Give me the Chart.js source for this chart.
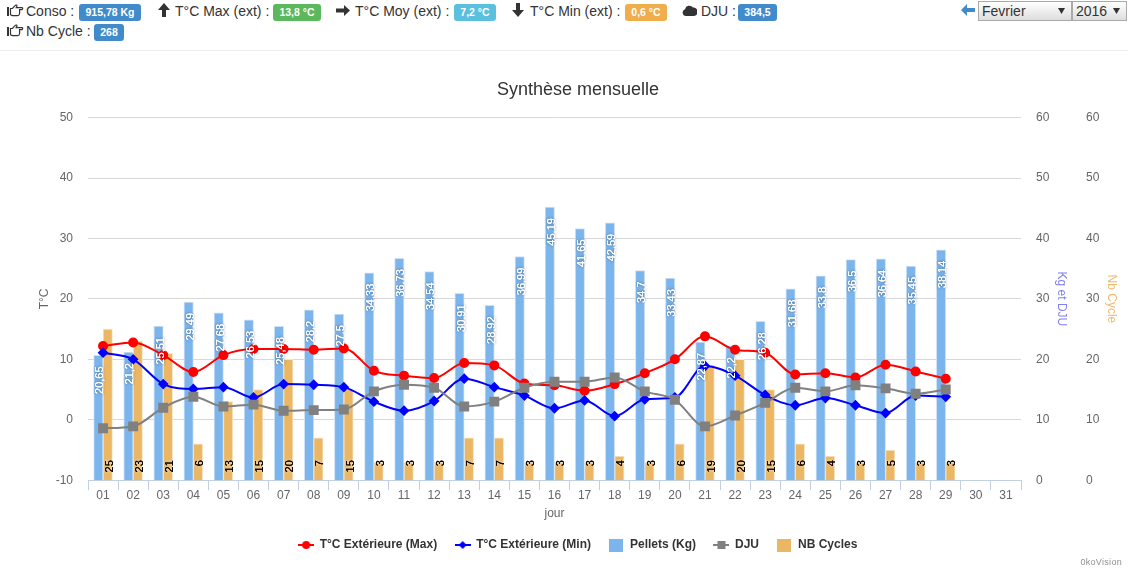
<!DOCTYPE html>
<html>
<head>
<meta charset="utf-8">
<title>Synthèse mensuelle</title>
<script src="https://cdn.jsdelivr.net/npm/chart.js@4"></script>
<style>
  html, body { margin: 0; padding: 0; background: #fff; overflow: hidden; }
  body { width: 1128px; height: 568px; position: relative; font-family: "Liberation Sans", Arial, sans-serif; font-size: 14px; color: #333; }
  .t, .b, .i { position: absolute; white-space: nowrap; }
  .t { line-height: 20px; }
  .b { height: 17px; line-height: 16px; border-radius: 3px; color: #fff; font-weight: bold; font-size: 10.5px; text-align: center; }
  .i svg { display: block; }
  .blue { background: #428bca; } .green { background: #5cb85c; } .cyan { background: #5bc0de; } .orange { background: #f0ad4e; }
  select {
    position: absolute; top: 1px; height: 20px; margin: 0; padding: 0 0 0 3px; box-sizing: border-box;
    font: 14px "Liberation Sans", Arial, sans-serif; color: #333; border: 1px solid #aaa; border-radius: 0; appearance: none;
    background: url("data:image/svg+xml,%3Csvg xmlns='http://www.w3.org/2000/svg' width='7' height='6'%3E%3Cpath d='M0 0H7L3.5 6Z' fill='%23333'/%3E%3C/svg%3E") no-repeat right 6px center, linear-gradient(#ffffff, #dddddd);
  }
  #sep { position: absolute; left: 0; top: 50px; width: 1128px; height: 1px; background: #eee; }
  #wrap { position: absolute; left: 0; top: 51px; width: 1128px; height: 517px; }
  #credit { position: absolute; right: 6px; top: 557px; font-size: 9px; color: #909090; letter-spacing: .3px; }
</style>
</head>
<body>
<span class="i" style="left:7px;top:4px"><svg width="17" height="13" viewBox="0 0 17 13"><path d="M0 3H2V12H0Z" fill="#333"/><path d="M3.5 4.5H5.5L8.5 1.2Q9.8 0.6 10 2L9.2 3.6H15Q16.4 4.2 15 5.6H12.6V9.5Q12.4 11.6 10.5 11.6H6Q4.5 11.6 3.5 10.6Z" fill="none" stroke="#333" stroke-width="1.2"/></svg></span>
<span class="t" style="left:26px;top:1px">Conso :</span>
<span class="b blue" style="left:79px;top:4px;width:62px">915,78 Kg</span>
<span class="i" style="left:158px;top:3px"><svg width="12" height="14" viewBox="0 0 12 14"><path d="M6 0L12 7H8V14H4V7H0Z" fill="#333"/></svg></span>
<span class="t" style="left:175px;top:1px">T°C Max (ext) :</span>
<span class="b green" style="left:273px;top:4px;width:48px">13,8 °C</span>
<span class="i" style="left:336px;top:5px"><svg width="14" height="11" viewBox="0 0 14 11"><path d="M14 5.5L8 0V3.5H0V7.5H8V11Z" fill="#333"/></svg></span>
<span class="t" style="left:355px;top:1px">T°C Moy (ext) :</span>
<span class="b cyan" style="left:454px;top:4px;width:42px">7,2 °C</span>
<span class="i" style="left:512px;top:3px"><svg width="12" height="14" viewBox="0 0 12 14"><path d="M6 14L12 7H8V0H4V7H0Z" fill="#333"/></svg></span>
<span class="t" style="left:530px;top:1px">T°C Min (ext) :</span>
<span class="b orange" style="left:625px;top:4px;width:42px">0,6 °C</span>
<span class="i" style="left:682px;top:4px"><svg width="15" height="12" viewBox="0 0 15 12"><path d="M4 12A3.5 3.5 0 0 1 3 5.2A4.5 4.5 0 0 1 11 3.6A4 4 0 0 1 12 12Z" fill="#333"/></svg></span>
<span class="t" style="left:701px;top:1px">DJU :</span>
<span class="b blue" style="left:738px;top:4px;width:39px">384,5</span>
<span class="i" style="left:7px;top:24px"><svg width="17" height="13" viewBox="0 0 17 13"><path d="M0 3H2V12H0Z" fill="#333"/><path d="M3.5 4.5H5.5L8.5 1.2Q9.8 0.6 10 2L9.2 3.6H15Q16.4 4.2 15 5.6H12.6V9.5Q12.4 11.6 10.5 11.6H6Q4.5 11.6 3.5 10.6Z" fill="none" stroke="#333" stroke-width="1.2"/></svg></span>
<span class="t" style="left:26px;top:21px">Nb Cycle :</span>
<span class="b blue" style="left:94px;top:24px;width:30px">268</span>
<span class="i" style="left:961px;top:4px"><svg width="14" height="12" viewBox="0 0 14 12"><path d="M0 6L6 0V4H14V8H6V12Z" fill="#428bca"/></svg></span>
<select style="left:978px;width:94px"><option>Fevrier</option></select>
<select style="left:1072px;width:55px"><option>2016</option></select>
<div id="sep"></div>
<div id="wrap"><canvas id="chart" width="1128" height="517"></canvas></div>
<div id="credit">0koVision</div>

<script>
const jours = ["01","02","03","04","05","06","07","08","09","10","11","12","13","14","15","16","17","18","19","20","21","22","23","24","25","26","27","28","29","30","31"];
const tempMax = [12.2,12.8,10.7,7.9,10.7,11.7,11.7,11.6,11.8,8.1,7.3,6.9,9.4,9.0,6.0,5.7,4.8,5.9,7.7,10.0,13.8,11.6,11.1,7.5,7.7,7.0,9.1,8.0,6.8];
const tempMin = [11.1,10.0,5.9,5.1,5.4,3.7,5.9,5.8,5.4,3.0,1.5,3.1,6.8,5.4,4.0,1.9,3.2,0.6,3.4,3.7,8.9,7.3,4.1,2.4,3.6,2.4,1.1,4.0,3.8];
const pellets = [20.65,21.2,25.51,29.49,27.68,26.53,25.48,28.2,27.5,34.33,36.73,34.54,30.91,28.92,36.99,45.19,41.65,42.59,34.7,33.43,22.87,22.2,26.28,31.68,33.8,36.5,36.64,35.45,38.14];
const dju = [8.6,8.9,12.0,13.8,12.2,12.5,11.5,11.6,11.7,14.7,15.8,15.3,12.2,13.0,15.3,16.3,16.3,17.0,14.7,13.3,8.9,10.7,12.8,15.3,14.7,15.7,15.2,14.3,15.0];
const nbCycles = [25,23,21,6,13,15,20,7,15,3,3,3,7,7,3,3,3,4,3,6,19,20,15,6,4,3,5,3,3];

const gris = "#666666";
const police = "'Liberation Sans', Arial, sans-serif";

// petites icones de legende (trait + marqueur)
function icone(couleur, forme) {
  const c = document.createElement("canvas");
  c.width = forme === "barre" ? 14 : 16;
  c.height = forme === "barre" ? 13 : 10;
  const g = c.getContext("2d");
  g.fillStyle = couleur;
  if (forme === "barre") {
    g.fillRect(0, 0, 14, 13);
    return c;
  }
  g.fillRect(0, 4, 16, 2);
  if (forme === "rond") { g.beginPath(); g.arc(8, 5, 4, 0, Math.PI * 2); g.fill(); }
  if (forme === "carre") g.fillRect(4, 1, 8, 8);
  if (forme === "losange") { g.beginPath(); g.moveTo(8, 1); g.lineTo(12, 5); g.lineTo(8, 9); g.lineTo(4, 5); g.fill(); }
  return c;
}
const icones = [icone("#ff0000", "rond"), icone("#0000ff", "losange"), icone("#7cb5ec", "barre"), icone("#808080", "carre"), icone("#ebb764", "barre")];

// etiquettes verticales sur les barres
const etiquettes = {
  id: "etiquettes",
  afterDatasetsDraw(chart) {
    const ctx = chart.ctx;
    const bas = chart.scales.x.top;
    const ecrire = (meta, valeurs, couleur, halo, position) => {
      meta.data.forEach((bar, i) => {
        if (valeurs[i] === undefined) return;
        ctx.save();
        ctx.translate(bar.x + 2, position(bar));
        ctx.rotate(-Math.PI / 2);
        ctx.font = "11px " + police;
        ctx.textAlign = "right";
        ctx.textBaseline = "middle";
        ctx.fillStyle = couleur;
        ctx.shadowColor = halo;
        ctx.shadowBlur = 3;
        ctx.fillText(String(valeurs[i]).replace(".", ","), 0, 0);
        ctx.shadowBlur = 0;
        ctx.fillText(String(valeurs[i]).replace(".", ","), 0, 0);
        ctx.restore();
      });
    };
    ecrire(chart.getDatasetMeta(2), pellets, "#ffffff", "rgba(0,0,0,0.55)", (b) => b.y + 11);
    ecrire(chart.getDatasetMeta(4), nbCycles, "#000000", "#ffffff", () => bas - 20);
  },
};

function axeDroit(titre, couleur, largeur, marge) {
  return {
    position: "right",
    min: 0, max: 60,
    border: { display: false },
    grid: { display: false },
    ticks: { stepSize: 10, color: gris, padding: 7, font: { size: 12, family: police } },
    title: { display: true, text: titre, color: couleur, padding: { top: marge, bottom: 0 }, font: { size: 12, family: police } },
    afterFit(s) { s.width = largeur; },
  };
}

new Chart(document.getElementById("chart"), {
  data: {
    labels: jours,
    datasets: [
      { type: "line", label: "T°C Extérieure (Max)", data: tempMax, yAxisID: "y", order: 3, borderColor: "#ff0000", backgroundColor: "#ff0000", borderWidth: 2, cubicInterpolationMode: "monotone", pointStyle: "circle", pointRadius: 4 },
      { type: "line", label: "T°C Extérieure (Min)", data: tempMin, yAxisID: "y", order: 2, borderColor: "#0000ff", backgroundColor: "#0000ff", borderWidth: 2, cubicInterpolationMode: "monotone", pointStyle: "rectRot", pointRadius: 4 },
      { type: "bar", label: "Pellets (Kg)", data: pellets, yAxisID: "y1", order: 5, backgroundColor: "#7cb5ec", borderColor: "#cfe2f7", borderWidth: 1, barThickness: 9.4 },
      { type: "line", label: "DJU", data: dju, yAxisID: "y1", order: 1, borderColor: "#808080", backgroundColor: "#808080", borderWidth: 2, cubicInterpolationMode: "monotone", pointStyle: "rect", pointRadius: 5.6 },
      { type: "bar", label: "NB Cycles", data: nbCycles, yAxisID: "y2", order: 5, backgroundColor: "#ebb764", borderColor: "#f8e6c8", borderWidth: 1, barThickness: 9.4 },
    ],
  },
  options: {
    responsive: false,
    animation: false,
    layout: { padding: { left: 28, bottom: 7 } },
    plugins: {
      title: { display: true, text: "Synthèse mensuelle", color: "#333333", padding: { top: 28, bottom: 17 }, font: { size: 18, weight: "normal", family: police } },
      tooltip: { enabled: false },
      legend: {
        position: "bottom",
        labels: {
          usePointStyle: true,
          pointStyleWidth: 15,
          padding: 18,
          color: "#333333",
          font: { size: 12, weight: "bold", family: police },
          sort: (a, b) => a.datasetIndex - b.datasetIndex,
          generateLabels(chart) {
            const items = Chart.defaults.plugins.legend.labels.generateLabels(chart);
            items.forEach((it) => { it.pointStyle = icones[it.datasetIndex]; });
            return items;
          },
        },
      },
    },
    scales: {
      x: {
        offset: true,
        border: { color: "#c0d0e0" },
        grid: { offset: true, drawOnChartArea: false, color: "#c0d0e0", tickLength: 10 },
        ticks: { color: gris, padding: -2, maxRotation: 0, autoSkip: false, font: { size: 12, family: police } },
        title: { display: true, text: "jour", color: gris, padding: { top: 6, bottom: 0 }, font: { size: 12, family: police } },
      },
      y: {
        position: "left",
        min: -10, max: 50,
        border: { display: false },
        grid: { color: "#d8d8d8", drawTicks: false },
        ticks: { stepSize: 10, color: gris, padding: 15, font: { size: 12, family: police } },
        title: { display: true, text: "T°C", color: gris, padding: { top: 9, bottom: 0 }, font: { size: 12, family: police } },
        afterFit(s) { s.width = 60; },
      },
      y1: axeDroit("Kg et DJU", "#8080f0", 50, 2),
      y2: axeDroit("Nb Cycle", "#f0b96e", 57, 9),
    },
  },
  plugins: [etiquettes],
});
</script>
</body>
</html>
